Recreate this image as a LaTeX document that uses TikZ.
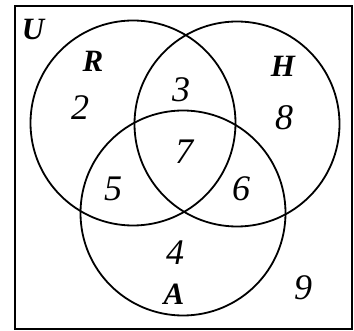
\documentclass[tikz,border=0pt]{standalone}
\usepackage{fontspec}
\setmainfont{Liberation Serif}
\usetikzlibrary{positioning}

\begin{document}
\begin{tikzpicture}[
    x=1pt, y=-1pt,
    % Set styles
    setcircle/.style={
        circle,
        draw=black,
        line width=1.8pt,
        inner sep=0pt,
        minimum size=205pt
    },
    setlabel/.style={
        font=\fontsize{31}{31}\selectfont\bfseries\itshape,
        inner sep=0pt
    },
    count/.style={
        font=\fontsize{36}{36}\selectfont\itshape,
        inner sep=0pt
    }
]
\useasboundingbox (0,0) rectangle (354,331);

% ============================================
% UNIVERSE
% ============================================
\draw[line width=1.6pt] (15,6) rectangle (352,329);
\node[setlabel] (labelU) at (33,29) {U};

% ============================================
% SETS
% ============================================
\node[setcircle] (R) at (133,123) {};
\node[setcircle] (H) at (237,124) {};
\node[setcircle] (A) at (183,213) {};

\node[setlabel] (labelR) at (93,61) {R};
\node[setlabel] (labelH) at (283,66) {H};
\node[setlabel] (labelA) at (174,294) {A};

% ============================================
% REGION COUNTS
% ============================================
\node[count] (onlyR) at (80,108) {2};
\node[count] (RH) at (181,90) {3};
\node[count] (onlyH) at (284,118) {8};
\node[count] (RHA) at (184,152) {7};
\node[count] (RA) at (113,189) {5};
\node[count] (HA) at (241,189) {6};
\node[count] (onlyA) at (175,253) {4};
\node[count] (none) at (303,288) {9};

\end{tikzpicture}
\end{document}
